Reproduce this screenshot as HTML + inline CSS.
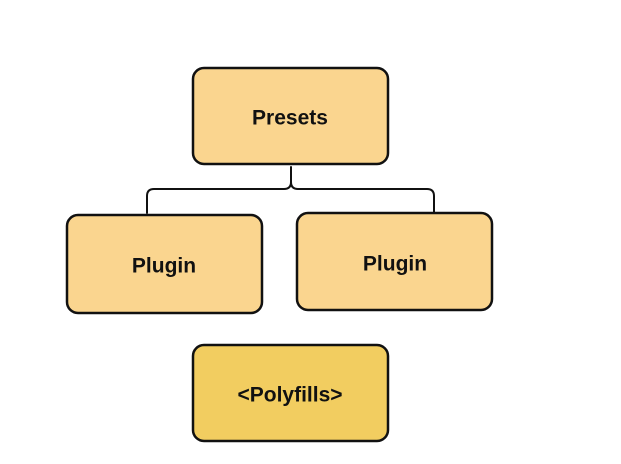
<!DOCTYPE html>
<html><head><meta charset="utf-8"><style>
html,body{margin:0;padding:0;background:#fff;}
svg{display:block;}
text{font-family:"Liberation Sans",sans-serif;font-weight:bold;font-size:21px;fill:#111;text-anchor:middle;dominant-baseline:central;}
</style></head><body>
<svg width="621" height="464" viewBox="0 0 621 464">
<g stroke="#111" stroke-width="2" fill="none" stroke-linecap="round">
<path d="M291,167 V182 Q291,189 284,189 H154 Q147,189 147,196 V213"/>
<path d="M291,182 Q291,189 298,189 H427 Q434,189 434,196 V213"/>
</g>
<g stroke="#111" stroke-width="2.5">
<rect x="193" y="68" width="195" height="96" rx="11" fill="#FAD58F"/>
<rect x="67" y="215" width="195" height="98" rx="11" fill="#FAD58F"/>
<rect x="297" y="213" width="195" height="97" rx="11" fill="#FAD58F"/>
<rect x="193" y="345" width="195" height="96" rx="11" fill="#F2CD60"/>
</g>
<text x="290" y="118">Presets</text>
<text x="164" y="266">Plugin</text>
<text x="395" y="264">Plugin</text>
<text x="290" y="395">&lt;Polyfills&gt;</text>
</svg>
</body></html>
